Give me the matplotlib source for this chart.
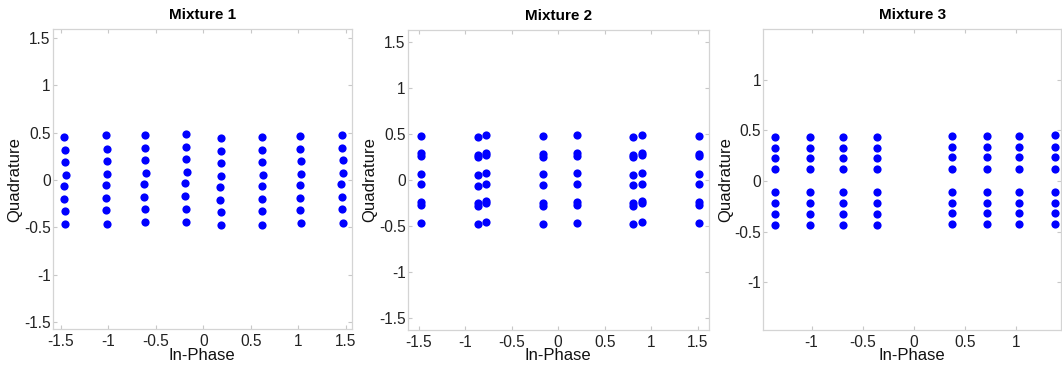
import matplotlib
matplotlib.use("Agg")
import matplotlib.pyplot as plt

plt.rcParams['font.family'] = ['Liberation Sans', 'DejaVu Sans']
plt.rcParams['axes.unicode_minus'] = False

# ---- data ----
titles = ['Mixture 1', 'Mixture 2', 'Mixture 3']

# Mixture 1: 8 columns x 8 points (in-phase, quadrature)
m1_i = [
    [-1.461, -1.454, -1.454, -1.447, -1.461, -1.461, -1.454, -1.454],
    [-1.023, -1.016, -1.016, -1.009, -1.023, -1.023, -1.023, -1.016],
    [-0.617, -0.617, -0.610, -0.606, -0.620, -0.620, -0.613, -0.617],
    [-0.178, -0.178, -0.178, -0.171, -0.189, -0.189, -0.182, -0.182],
    [0.183, 0.183, 0.190, 0.190, 0.176, 0.176, 0.183, 0.183],
    [0.621, 0.621, 0.621, 0.631, 0.614, 0.614, 0.621, 0.621],
    [1.020, 1.020, 1.027, 1.027, 1.013, 1.020, 1.020, 1.027],
    [1.462, 1.462, 1.465, 1.465, 1.451, 1.458, 1.458, 1.465],
]
m1_q = [
    [0.457, 0.317, 0.190, 0.056, -0.060, -0.201, -0.327, -0.468],
    [0.472, 0.327, 0.201, 0.063, -0.053, -0.193, -0.320, -0.461],
    [0.478, 0.338, 0.208, 0.077, -0.046, -0.180, -0.306, -0.447],
    [0.486, 0.348, 0.222, 0.081, -0.032, -0.173, -0.303, -0.440],
    [0.447, 0.309, 0.183, 0.046, -0.070, -0.211, -0.338, -0.478],
    [0.457, 0.317, 0.190, 0.053, -0.063, -0.204, -0.331, -0.472],
    [0.468, 0.324, 0.197, 0.067, -0.049, -0.190, -0.317, -0.457],
    [0.478, 0.338, 0.208, 0.070, -0.042, -0.183, -0.310, -0.451],
]

# Mixture 2: column positions and the quadrature values in each column
m2_cols = [-1.473, -0.860, -0.774, -0.161, 0.198, 0.806, 0.897, 1.513]
m2_q = [
    [0.482, 0.290, 0.261, 0.065, -0.047, -0.236, -0.272, -0.471],
    [0.464, 0.272, 0.254, 0.058, -0.062, -0.254, -0.283, -0.478],
    [0.486, 0.297, 0.268, 0.072, -0.047, -0.228, -0.254, -0.460],
    [0.482, 0.283, 0.254, 0.069, -0.054, -0.254, -0.283, -0.478],
    [0.486, 0.290, 0.264, 0.072, -0.047, -0.236, -0.272, -0.464],
    [0.471, 0.272, 0.254, 0.058, -0.058, -0.254, -0.279, -0.478],
    [0.493, 0.290, 0.275, 0.072, -0.040, -0.228, -0.254, -0.460],
    [0.478, 0.283, 0.261, 0.065, -0.047, -0.243, -0.272, -0.471],
]

# Mixture 3
m3_cols = [-1.360, -1.017, -0.696, -0.357, 0.375, 0.716, 1.035, 1.382]
m3_q = [
    [0.438, 0.326, 0.227, 0.116, -0.112, -0.220, -0.326, -0.435],
    [0.438, 0.326, 0.227, 0.116, -0.112, -0.220, -0.326, -0.435],
    [0.438, 0.326, 0.227, 0.116, -0.112, -0.220, -0.326, -0.432],
    [0.438, 0.326, 0.227, 0.116, -0.112, -0.220, -0.326, -0.432],
    [0.445, 0.336, 0.234, 0.119, -0.105, -0.214, -0.319, -0.428],
    [0.445, 0.336, 0.234, 0.119, -0.105, -0.214, -0.319, -0.428],
    [0.445, 0.336, 0.234, 0.119, -0.105, -0.214, -0.319, -0.428],
    [0.455, 0.336, 0.234, 0.119, -0.105, -0.214, -0.319, -0.428],
]

ticks_wide = [-1.5, -1, -0.5, 0, 0.5, 1, 1.5]
labels_wide = ['-1.5', '-1', '-0.5', '0', '0.5', '1', '1.5']
ticks_narrow = [-1, -0.5, 0, 0.5, 1]
labels_narrow = ['-1', '-0.5', '0', '0.5', '1']

# axes placement (figure fractions) and limits
rects = [[0.0496, 0.1027, 0.2818, 0.8174],
         [0.3839, 0.1008, 0.2834, 0.8174],
         [0.7187, 0.1008, 0.2803, 0.8201]]
xlims = [(-1.584, 1.564), (-1.62, 1.62), (-1.474, 1.444)]
ylims = [(-1.577, 1.591), (-1.63, 1.63), (-1.472, 1.499)]

fig = plt.figure(figsize=(10.62, 3.67), dpi=100)

points = []
points.append(([x for c in m1_i for x in c], [y for c in m1_q for y in c]))
points.append(([m2_cols[k] for k in range(8) for _ in m2_q[k]], [y for c in m2_q for y in c]))
points.append(([m3_cols[k] for k in range(8) for _ in m3_q[k]], [y for c in m3_q for y in c]))

for n in range(3):
    ax = fig.add_axes(rects[n])
    xs, ys = points[n]
    ax.plot(xs, ys, 'o', color='blue', markersize=5.9, markeredgewidth=0)
    ax.set_xlim(xlims[n])
    ax.set_ylim(ylims[n])
    if n < 2:
        ax.set_xticks(ticks_wide)
        ax.set_xticklabels(labels_wide)
        ax.set_yticks(ticks_wide)
        ax.set_yticklabels(labels_wide)
    else:
        ax.set_xticks(ticks_narrow)
        ax.set_xticklabels(labels_narrow)
        ax.set_yticks(ticks_narrow)
        ax.set_yticklabels(labels_narrow)
    ax.tick_params(direction='in', length=3, width=0.8, color='#c8c8c8',
                   top=True, right=True, labelsize=11.2, labelcolor='#222222')
    ax.tick_params(axis='x', pad=3.5)
    ax.tick_params(axis='y', pad=1.5)
    for s in ax.spines.values():
        s.set_color('#d4d4d4')
        s.set_linewidth(0.9)
    ax.set_title(titles[n], fontsize=11, fontweight='bold', pad=7.5)
    ax.set_xlabel('In-Phase', fontsize=12, labelpad=-1, color='#111111')
    ax.set_ylabel('Quadrature', fontsize=12, color='#111111')
    ax.yaxis.set_label_coords(-0.102, 0.5)

fig.savefig('out.png', dpi=100)
